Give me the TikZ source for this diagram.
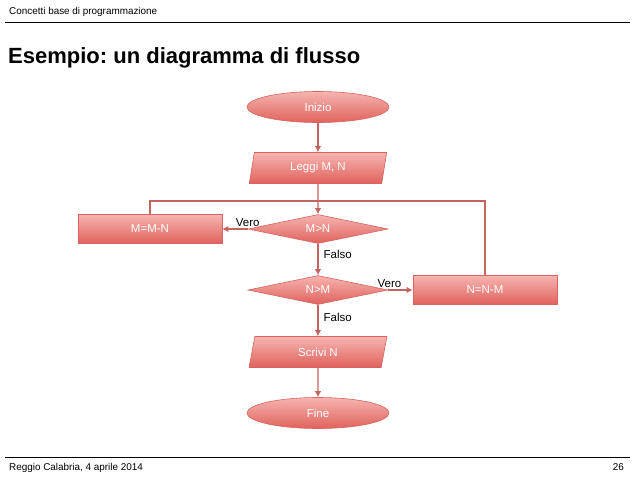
\documentclass[tikz,border=0pt]{standalone}
\usepackage{fontspec}
\setmainfont{Liberation Sans}
\usepackage{tikz}
\usetikzlibrary{
  arrows.meta,
  positioning,
  shapes.geometric,
}
\frenchspacing
\definecolor{boxTop}{HTML}{F6B4B0}
\definecolor{boxBottom}{HTML}{E0625D}
\definecolor{boxEdge}{HTML}{D9645F}
\definecolor{flowLine}{HTML}{C2645F}
\tikzset{
  chartbox/.style={
    draw=boxEdge, line width=0.6pt, top color=boxTop, bottom color=boxBottom,
    text=white, font=\fontsize{11.5}{13}\selectfont, align=center, inner sep=2pt,
  },
  terminal/.style={
    chartbox, ellipse, minimum width=142pt, minimum height=31pt,
  },
  iobox/.style={
    chartbox, trapezium, trapezium left angle=81, trapezium right angle=99,
    trapezium stretches=true, minimum width=138pt, minimum height=31pt,
  },
  decision/.style={
    chartbox, diamond, aspect=4.8, minimum width=140pt, minimum height=29pt,
  },
  process/.style={
    chartbox, rectangle, minimum width=144pt, minimum height=29pt,
  },
  flowLine/.style={
    line width=1.4pt, draw=flowLine,
  },
  flowArrow/.style={
    flowLine, -{Latex[length=6pt,width=6.5pt]},
  },
  lbl/.style={
    font=\fontsize{11.5}{13}\selectfont, text=black, inner sep=1pt,
  },
  slide/.style={
    line width=0.9pt, draw=black,
  },
}

\begin{document}
\begin{tikzpicture}[x=1pt, y=-1pt]
\useasboundingbox (0,0) rectangle (638,479);

% slide frame
\node[anchor=base west, font=\fontsize{9.9}{12}\selectfont, inner sep=0pt]
  (head) at (9,15) {Concetti base di programmazione};
\draw[slide] (5,22) -- (630,22);
\node[anchor=base west, font=\fontsize{22}{26}\bfseries\selectfont, inner sep=0pt]
  (title) at (8,63) {Esempio: un diagramma di flusso};
\draw[slide] (5,457) -- (630,457);
\node[anchor=base west, font=\fontsize{9.9}{12}\selectfont, inner sep=0pt]
  (foot) at (9,470) {Reggio Calabria, 4 aprile 2014};
\node[anchor=base east, font=\fontsize{9.9}{12}\selectfont, inner sep=0pt]
  (page) at (624,470) {26};

% flowchart
\node[terminal] (inizio) at (318,107) {Inizio};
\node[iobox]    (leggi)  at (318,168) {Leggi M, N};
\node[decision] (mgn)    at (318,229) {M>N};
\node[process]  (mmn)    at (150,229) {M=M-N};
\node[decision] (ngm)    at (318,290) {N>M};
\node[process]  (nnm)    at (485,290) {N=N-M};
\node[iobox]    (scrivi) at (318,352) {Scrivi N};
\node[terminal] (fine)   at (318,413) {Fine};

\coordinate (join) at (318,201);

\foreach \a/\b in {inizio/leggi, leggi/mgn, scrivi/fine}
  \draw[flowArrow] (\a) -- (\b);

\draw[flowArrow] (mgn) -- node[lbl, pos=0, above=1pt] {Vero} (mmn);
\draw[flowArrow] (mgn) -- node[lbl, pos=0.35, right=4pt] {Falso} (ngm);
\draw[flowArrow] (ngm) -- node[lbl, pos=0.05, above=1pt] {Vero} (nnm);
\draw[flowArrow] (ngm) -- node[lbl, pos=0.4, right=4pt] {Falso} (scrivi);

\draw[flowLine] (mmn.north) |- (join);
\draw[flowLine] (nnm.north) |- (join);

\end{tikzpicture}
\end{document}
